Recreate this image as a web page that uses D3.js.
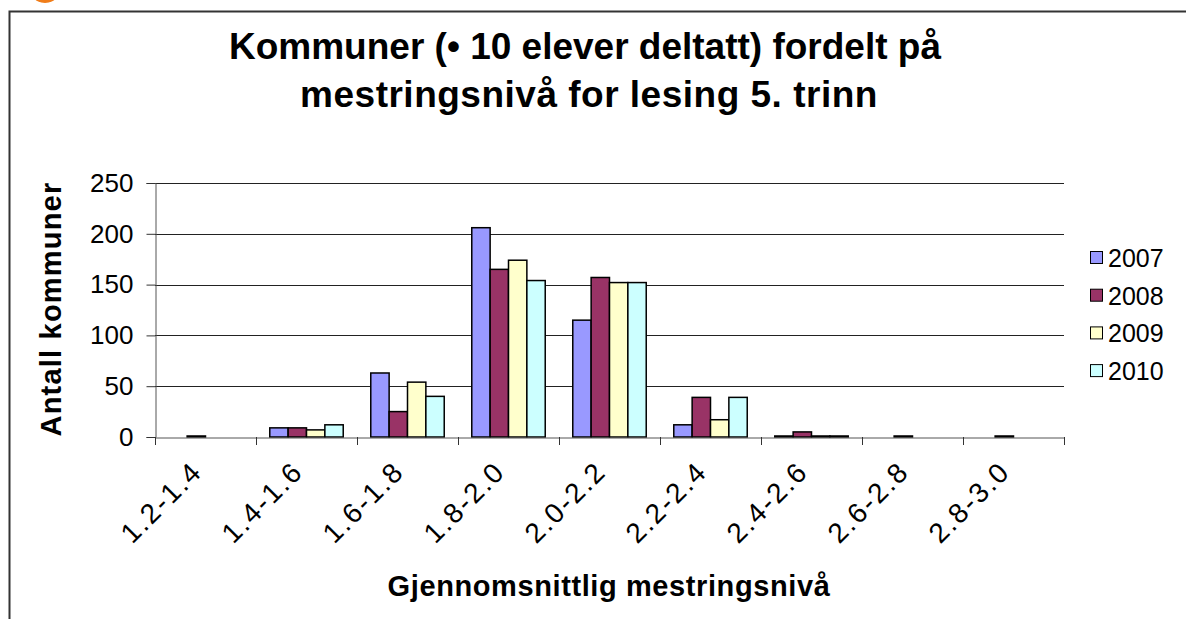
<!DOCTYPE html>
<html>
<head>
	<script src="https://d3js.org/d3.v7.min.js"></script>
	<title>Kommuner fordelt på mestringsnivå</title>
	<style>
		body { margin: 0; background: #fff; }
		text { font-family: "Liberation Sans", Arial, sans-serif; }
	</style>
</head>
<body>
	<svg id="chart" width="1186" height="619"></svg>
	<script>
		// data
		var categories = ["1.2-1.4","1.4-1.6","1.6-1.8","1.8-2.0","2.0-2.2","2.2-2.4","2.4-2.6","2.6-2.8","2.8-3.0"];
		var years = ["2007","2008","2009","2010"];
		var v2007 = [0, 9, 63, 206, 115, 12, 1, 0, 0];
		var v2008 = [1, 9, 25, 165, 157, 39, 5, 1, 1];
		var v2009 = [0, 7, 54, 174, 152, 17, 1, 0, 0];
		var v2010 = [0, 12, 40, 154, 152, 39, 1, 0, 0];
		var yTicks = [0, 50, 100, 150, 200, 250];
		var colors = ["#9999ff", "#993366", "#ffffcc", "#ccffff"];

		var series = [v2007, v2008, v2009, v2010];

		var svg = d3.select("#chart");

		// orange blob peeking in at the top + frame
		svg.append("ellipse").attr("cx", 45).attr("cy", -20).attr("rx", 19).attr("ry", 23).attr("fill", "#f07d1a");
		svg.append("path").attr("d", "M9.5,619 V11.5 H1186")
			.attr("fill", "none").attr("stroke", "#333").attr("stroke-width", 2);

		var x = d3.scaleBand().domain(categories).range([155, 1064]).paddingInner(0).paddingOuter(0);
		var y = d3.scaleLinear().domain([0, 250]).range([437, 183]);

		var bw = x.step() / 5.5;
		var xs = d3.scaleBand().domain(years).range([0.75 * bw, 4.75 * bw]);

		// gridlines
		svg.append("g").selectAll("line").data(yTicks.slice(1)).enter()
			.append("line")
			.attr("x1", 155).attr("x2", 1064)
			.attr("y1", d => Math.round(y(d)) + 0.5).attr("y2", d => Math.round(y(d)) + 0.5)
			.attr("stroke", "#222").attr("stroke-width", 1);

		// y axis
		var yAxis = d3.axisLeft(y).tickValues(yTicks).tickSize(9).tickPadding(13);
		var gy = svg.append("g").attr("transform", "translate(155.5,0)").call(yAxis);
		gy.select(".domain").attr("stroke", "#555");
		gy.selectAll(".tick line").attr("stroke", "#333");
		gy.selectAll(".tick text").attr("font-size", 26).attr("fill", "#000")
			.attr("font-family", "Liberation Sans, Arial, sans-serif");

		// bars
		var groups = svg.append("g").selectAll("g").data(series).enter()
			.append("g")
			.attr("fill", (d, i) => colors[i]);
		groups.selectAll("rect").data((d, i) => d.map((v, j) => ({v: v, c: categories[j], s: years[i]})))
			.enter().filter(d => d.v > 0)
			.append("rect")
			.attr("x", d => x(d.c) + xs(d.s))
			.attr("width", xs.bandwidth())
			.attr("y", d => y(d.v))
			.attr("height", d => y(0) - y(d.v))
			.attr("stroke", "#000").attr("stroke-width", 1.5);

		// x axis
		var xAxis = d3.axisBottom(x).tickSize(0).tickFormat("");
		var gx = svg.append("g").attr("transform", "translate(0,437.5)").call(xAxis);
		gx.select(".domain").attr("stroke", "#555");
		svg.append("g").selectAll("line").data(d3.range(categories.length + 1)).enter()
			.append("line")
			.attr("x1", d => Math.round(155 + d * x.step()) + 0.5)
			.attr("x2", d => Math.round(155 + d * x.step()) + 0.5)
			.attr("y1", 437).attr("y2", 445)
			.attr("stroke", "#333");

		// rotated labels, a bit spaced out like the original
		svg.append("g").selectAll("text").data(categories).enter()
			.append("text")
			.attr("transform", d => "translate(" + (x(d) + x.bandwidth() / 2 - 16) + ",459) rotate(-45)")
			.attr("text-anchor", "end")
			.attr("dy", "0.72em")
			.attr("font-size", 28)
			.attr("letter-spacing", 2)
			.text(d => d);

		// titles
		var title = svg.append("text").attr("text-anchor", "middle").attr("font-weight", "bold").attr("font-size", 37);
		title.append("tspan").attr("x", 585).attr("y", 59).text("Kommuner (• 10 elever deltatt) fordelt på");
		title.append("tspan").attr("x", 589).attr("y", 107).attr("letter-spacing", 0.5).text("mestringsnivå for lesing 5. trinn");

		svg.append("text")
			.attr("transform", "translate(61,309) rotate(-90)")
			.attr("text-anchor", "middle")
			.attr("font-weight", "bold").attr("font-size", 29)
			.attr("letter-spacing", 1.2)
			.text("Antall kommuner");

		svg.append("text")
			.attr("x", 609).attr("y", 596)
			.attr("text-anchor", "middle")
			.attr("font-weight", "bold").attr("font-size", 29)
			.attr("letter-spacing", 0.6)
			.text("Gjennomsnittlig mestringsnivå");

		// legend
		var legend = svg.append("g").selectAll("g").data(years).enter()
			.append("g")
			.attr("transform", (d, i) => "translate(1090," + (258 + i * 37.7) + ")");
		legend.append("rect")
			.attr("x", 0.5).attr("y", -6.5).attr("width", 12).attr("height", 12)
			.attr("fill", (d, i) => colors[i]).attr("stroke", "#000").attr("stroke-width", 1);
		legend.append("text")
			.attr("x", 18).attr("y", 0).attr("dy", "0.36em")
			.attr("font-size", 25)
			.text(d => d);
	</script>
</body>
</html>
